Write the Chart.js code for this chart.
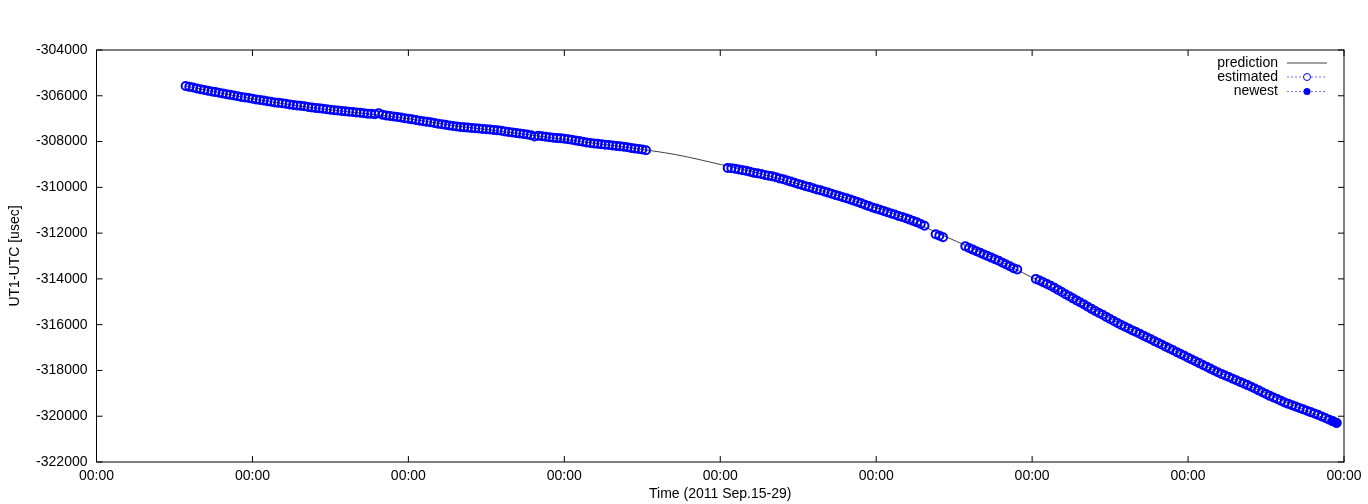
<!DOCTYPE html>
<html>
<head>
<meta charset="utf-8">
<title>UT1-UTC</title>
<script src="https://cdn.jsdelivr.net/npm/chart.js@4.4.1/dist/chart.umd.min.js"></script>
<style>
  html, body { margin: 0; padding: 0; background: #fff; }
  #wrap { width: 1368px; height: 504px; }
</style>
</head>
<body>
<div id="wrap"><canvas id="myChart"></canvas></div>
<script>
// hours since 2011 Sep.15 00:00, hourly samples, one start hour per run
const estStart = [24, 170, 226, 234, 253];
const estValues = [
  [-305570, -305610, -305640, -305680, -305710, -305750, -305780, -305810, -305840, -305870,
   -305900, -305930, -305960, -305990, -306020, -306050, -306070, -306100, -306130, -306160,
   -306180, -306210, -306240, -306260, -306290, -306310, -306330, -306350, -306380, -306400,
   -306420, -306440, -306460, -306490, -306510, -306530, -306550, -306570, -306590, -306610,
   -306630, -306640, -306660, -306680, -306700, -306710, -306730, -306740, -306760, -306780,
   -306790, -306810, -306760, -306830, -306860, -306880, -306900, -306930, -306950, -306980,
   -307000, -307030, -307060, -307090, -307110, -307140, -307160, -307190, -307220, -307240,
   -307270, -307300, -307320, -307340, -307360, -307380, -307390, -307410, -307420, -307430,
   -307450, -307460, -307470, -307490, -307510, -307530, -307560, -307580, -307600, -307630,
   -307650, -307670, -307690, -307720, -307780, -307750, -307770, -307790, -307810, -307830,
   -307850, -307860, -307880, -307900, -307920, -307950, -307980, -308010, -308040, -308060,
   -308080, -308100, -308120, -308140, -308150, -308170, -308190, -308210, -308230, -308250,
   -308280, -308300, -308320, -308350, -308380],
  [-309150, -309170, -309190, -309220, -309250, -309280, -309320, -309360, -309390, -309420,
   -309460, -309490, -309520, -309560, -309610, -309650, -309700, -309750, -309800, -309850,
   -309900, -309950, -309990, -310040, -310090, -310130, -310180, -310230, -310280, -310330,
   -310380, -310430, -310480, -310530, -310590, -310640, -310700, -310760, -310820, -310880,
   -310930, -310980, -311030, -311090, -311140, -311190, -311250, -311300, -311350, -311410,
   -311470, -311530, -311600, -311680],
  [-312050, -312110, -312180],
  [-312570, -312650, -312720, -312790, -312860, -312930, -313000, -313070, -313140, -313210,
   -313290, -313370, -313450, -313530, -313590],
  [-314000, -314070, -314150, -314220, -314300, -314390, -314480, -314570, -314670, -314760,
   -314850, -314940, -315030, -315120, -315220, -315310, -315400, -315490, -315570, -315660,
   -315750, -315840, -315930, -316010, -316090, -316170, -316250, -316320, -316400, -316480,
   -316560, -316640, -316720, -316800, -316880, -316960, -317040, -317120, -317200, -317280,
   -317360, -317440, -317520, -317600, -317680, -317760, -317840, -317920, -318000, -318080,
   -318150, -318220, -318290, -318360, -318430, -318500, -318570, -318640, -318710, -318790,
   -318870, -318950, -319030, -319110, -319180, -319250, -319320, -319400, -319460, -319520,
   -319580, -319640, -319700, -319760, -319820, -319880, -319940, -320010, -320080, -320150,
   -320220, -320290]
];
const newestHours = [333, 334];
const newestValues = [-320220, -320290];
const predHours = [24, 36, 48, 60, 72, 84, 96, 108, 120, 132, 144, 156, 168, 180, 192, 204,
  216, 228, 240, 252, 264, 276, 288, 300, 312, 324, 334];
const predValues = [-305570, -305960, -306290, -306560, -306770, -307000, -307300, -307530,
  -307780, -308030, -308280, -308570, -309000, -309450, -309990, -310580, -311240, -312100,
  -312980, -313940, -314930, -316000, -316950, -317920, -318790, -319640, -320290];
const xTickLabels = ['00:00', '00:00', '00:00', '00:00', '00:00', '00:00', '00:00', '00:00', '00:00'];
const legendLabels = ['prediction', 'estimated', 'newest'];

const FONT = '"Liberation Sans", Arial, Helvetica, sans-serif';

// build point lists for the library
const estPoints = [];
estStart.forEach((start, s) => {
    estValues[s].forEach((v, i) => estPoints.push({ x: start + i, y: v }));
});
const newestPoints = newestHours.map((h, i) => ({ x: h, y: newestValues[i] }));
const predPoints = predHours.map((h, i) => ({ x: h, y: predValues[i] }));

// gnuplot style frame with inward ticks on all four sides
const framePlugin = {
    id: 'frame',
    afterDraw(chart) {
        const ctx = chart.ctx;
        const a = chart.chartArea;
        const xs = chart.scales.x;
        const ys = chart.scales.y;
        const tl = 6;
        ctx.save();
        ctx.strokeStyle = '#000';
        ctx.lineWidth = 1;
        ctx.strokeRect(a.left, a.top, a.right - a.left, a.bottom - a.top);
        ctx.beginPath();
        xs.ticks.forEach(t => {
            const px = xs.getPixelForValue(t.value);
            ctx.moveTo(px, a.bottom); ctx.lineTo(px, a.bottom - tl);
            ctx.moveTo(px, a.top); ctx.lineTo(px, a.top + tl);
        });
        ys.ticks.forEach(t => {
            const py = ys.getPixelForValue(t.value);
            ctx.moveTo(a.left, py); ctx.lineTo(a.left + tl, py);
            ctx.moveTo(a.right, py); ctx.lineTo(a.right - tl, py);
        });
        ctx.stroke();
        ctx.restore();
    }
};

// key in the top right corner: text right aligned, sample to the right
const keyPlugin = {
    id: 'key',
    afterDraw(chart) {
        const ctx = chart.ctx;
        const textRight = 1278;
        const x0 = 1287, x1 = 1327, xm = 1307;
        const rows = [63, 77, 91.5];
        ctx.save();
        ctx.font = '14px ' + FONT;
        ctx.fillStyle = '#000';
        ctx.textAlign = 'right';
        ctx.textBaseline = 'middle';
        legendLabels.forEach((lab, i) => ctx.fillText(lab, textRight, rows[i]));

        ctx.strokeStyle = '#404040';
        ctx.lineWidth = 1;
        ctx.beginPath();
        ctx.moveTo(x0, rows[0]); ctx.lineTo(x1, rows[0]);
        ctx.stroke();

        [1, 2].forEach(i => {
            ctx.strokeStyle = 'rgba(0,0,255,0.7)';
            ctx.lineWidth = 0.8;
            ctx.setLineDash([2, 2]);
            ctx.beginPath();
            ctx.moveTo(x0, rows[i]); ctx.lineTo(x1, rows[i]);
            ctx.stroke();
            ctx.setLineDash([]);
            ctx.beginPath();
            ctx.arc(xm, rows[i], 3.5, 0, Math.PI * 2);
            if (i === 1) {
                ctx.fillStyle = '#fff';
                ctx.fill();
                ctx.strokeStyle = '#0000ff';
                ctx.lineWidth = 1;
                ctx.stroke();
            } else {
                ctx.fillStyle = '#0000ff';
                ctx.fill();
            }
        });
        ctx.restore();
    }
};

const ctx = document.getElementById('myChart').getContext('2d');
window.myChart = new Chart(ctx, {
    type: 'scatter',
    data: {
        datasets: [
            {
                label: legendLabels[2],
                data: newestPoints,
                showLine: false,
                pointStyle: 'circle',
                pointRadius: 4.5,
                borderWidth: 1,
                borderColor: '#0000ff',
                backgroundColor: '#0000ff'
            },
            {
                label: legendLabels[1],
                data: estPoints,
                showLine: false,
                pointStyle: 'circle',
                pointRadius: 4,
                borderWidth: 2,
                borderColor: '#0000ff',
                backgroundColor: 'rgba(0,0,0,0)'
            },
            {
                label: legendLabels[0],
                data: predPoints,
                showLine: true,
                pointRadius: 0,
                borderWidth: 1,
                borderColor: '#404040',
                cubicInterpolationMode: 'monotone'
            }
        ]
    },
    options: {
        responsive: true,
        maintainAspectRatio: false,
        animation: false,
        layout: { padding: { top: 50, right: 24, left: 0, bottom: 0 } },
        plugins: {
            legend: { display: false },
            tooltip: { enabled: false }
        },
        scales: {
            x: {
                type: 'linear',
                min: 0,
                max: 336,
                afterFit: s => { s.height = 42; },
                grid: { display: false, drawTicks: false },
                border: { display: false },
                ticks: {
                    stepSize: 42,
                    autoSkip: false,
                    maxRotation: 0,
                    padding: 6,
                    color: '#000',
                    font: { family: FONT, size: 14 },
                    callback: (v, i) => xTickLabels[i]
                },
                title: {
                    display: true,
                    text: 'Time (2011 Sep.15-29)',
                    color: '#000',
                    font: { family: FONT, size: 14 },
                    padding: { top: 0, bottom: 1 }
                }
            },
            y: {
                min: -322000,
                max: -304000,
                afterFit: s => { s.width = 96.5; },
                grid: { display: false, drawTicks: false },
                border: { display: false },
                ticks: {
                    stepSize: 2000,
                    padding: 9,
                    color: '#000',
                    font: { family: FONT, size: 14 },
                    callback: v => String(v)
                },
                title: {
                    display: true,
                    text: 'UT1-UTC [usec]',
                    color: '#000',
                    font: { family: FONT, size: 14 },
                    padding: { top: 7, bottom: 0 }
                }
            }
        }
    },
    plugins: [framePlugin, keyPlugin]
});
</script>
</body>
</html>
